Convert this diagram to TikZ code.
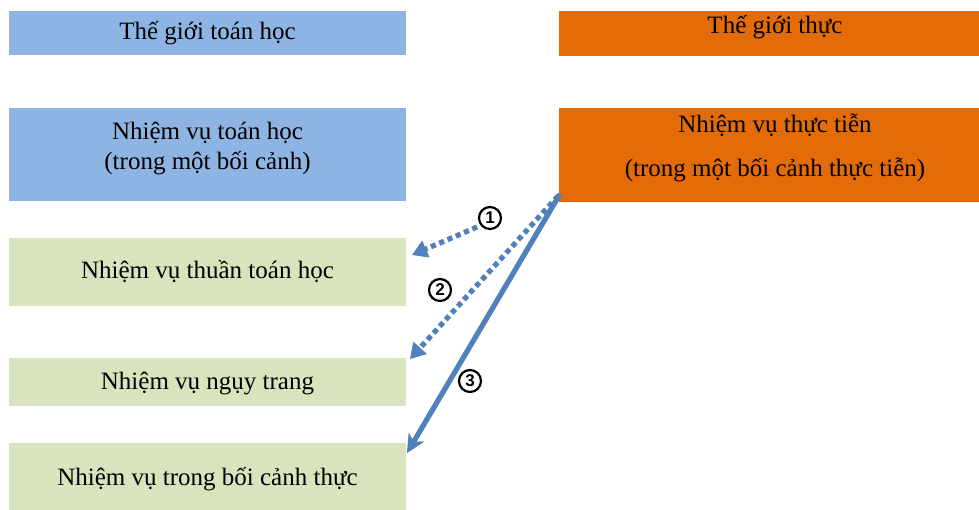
\documentclass[tikz,border=0pt]{standalone}
\usepackage{fontspec}
\setmainfont{Liberation Serif}
\newfontfamily\numfont{Liberation Sans}
\usetikzlibrary{arrows.meta}
\definecolor{mblue}{HTML}{8EB4E3}
\definecolor{morange}{HTML}{E36C09}
\definecolor{mgreen}{HTML}{D7E4BD}
\definecolor{arrblue}{HTML}{4F81BD}
\definecolor{shadowgray}{HTML}{A0A0A0}
\tikzset{
  lbl/.style={inner sep=0pt, font=\fontsize{25}{30}\selectfont, text=black},
  numlbl/.style={circle, draw=black, line width=2.2pt, minimum size=22pt, inner sep=0pt, font=\numfont\bfseries\fontsize{17}{17}\selectfont},
  dotarrow/.style={line width=5pt, dash pattern=on 5pt off 4pt, -{Triangle[length=15pt,width=17pt]}},
  solarrow/.style={line width=5pt, -{Stealth[length=18pt,width=17pt,inset=5pt]}},
}
\begin{document}
\begin{tikzpicture}[x=1pt,y=-1pt]
\useasboundingbox (0,0) rectangle (979,510);
% boxes
\fill[mblue] (9,11) rectangle (406,55);
\node[lbl] (tw1) at (207.5,33) {Thế giới toán học};
\fill[morange] (559,11) rectangle (979,56);
\node[lbl] (tw2) at (775,27) {Thế giới thực};
\fill[mblue] (9,108) rectangle (406,201);
\node[lbl] (c1) at (207.5,133) {Nhiệm vụ toán học};
\node[lbl] (c2) at (207.5,163) {(trong một bối cảnh)};
\fill[morange] (559,108) rectangle (979,202);
\node[lbl] (d1) at (775,125) {Nhiệm vụ thực tiễn};
\node[lbl] (d2) at (775,170) {(trong một bối cảnh thực tiễn)};
\fill[mgreen] (9,238) rectangle (406,306);
\node[lbl] (e) at (207.5,272) {Nhiệm vụ thuần toán học};
\fill[mgreen] (9,358) rectangle (406,406);
\node[lbl] (f) at (207.5,383) {Nhiệm vụ ngụy trang};
\fill[mgreen] (9,443) rectangle (406,510);
\node[lbl] (g) at (207.5,479) {Nhiệm vụ trong bối cảnh thực};
% arrow coordinates
\coordinate (s1) at (477,227);
\coordinate (t1) at (412,255);
\coordinate (s2) at (558,196);
\coordinate (t2) at (410,359);
\coordinate (s3) at (560,194);
\coordinate (t3) at (407,453);
% shadows
\begin{scope}[shift={(2,3.5)}]
\draw[dotarrow, shadowgray] (s1) -- (t1);
\draw[dotarrow, shadowgray] (s2) -- (t2);
\draw[solarrow, shadowgray] (s3) -- (t3);
\end{scope}
% arrows
\draw[dotarrow, arrblue] (s1) -- (t1);
\draw[dotarrow, arrblue] (s2) -- (t2);
\draw[solarrow, arrblue] (s3) -- (t3);
% numbers
\node[numlbl] (n1) at (490,218) {1};
\node[numlbl] (n2) at (440,290) {2};
\node[numlbl] (n3) at (470,381) {3};
\end{tikzpicture}
\end{document}
